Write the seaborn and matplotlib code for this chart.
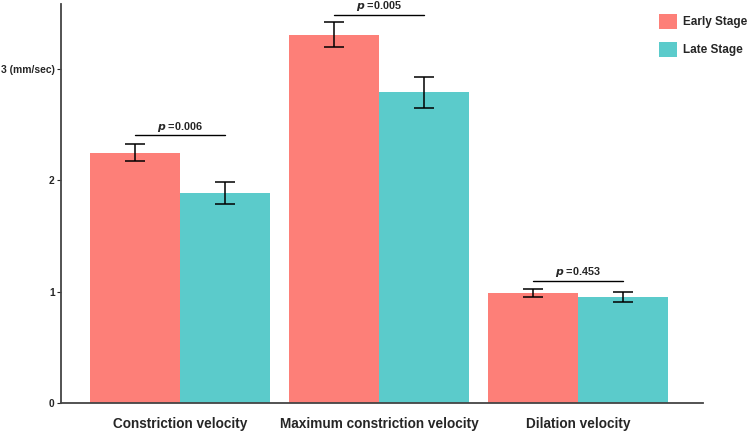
import pandas as pd
import matplotlib
matplotlib.use("Agg")
import matplotlib.pyplot as plt
import seaborn as sns
from matplotlib.patches import Patch

# data
measures = ["Constriction velocity", "Maximum constriction velocity", "Dilation velocity"]
stages = ["Early Stage", "Late Stage"]
early_mean = [2.25, 3.31, 0.99]
late_mean = [1.89, 2.79, 0.95]
early_err = [0.08, 0.11, 0.035]
late_err = [0.10, 0.14, 0.045]
p_values = ["0.006", "0.005", "0.453"]
p_heights = [2.41, 3.49, 1.10]
yticks = [0, 1, 2, 3]
ytick_labels = ["0", "1", "2", "3 (mm/sec)"]

colors = ["#FD7F78", "#5BCBCB"]

df = pd.DataFrame({
    "measure": measures * 2,
    "stage": [stages[0]] * 3 + [stages[1]] * 3,
    "value": early_mean + late_mean,
})

sns.set_style("white")
plt.rcParams["font.family"] = ["Liberation Sans", "DejaVu Sans"]
plt.rcParams["font.weight"] = "bold"

fig = plt.figure(figsize=(7.49, 4.33), dpi=100)
ax = fig.add_axes([0.0814, 0.0693, 0.8572, 0.9215])

sns.barplot(data=df, x="measure", y="value", hue="stage", order=measures,
            hue_order=stages, palette=colors, width=0.9, errorbar=None,
            saturation=1, linewidth=0, ax=ax, legend=False)

# bar centres from the seaborn bars
bar_conts = list(ax.containers)
errs = [early_err, late_err]
means = [early_mean, late_mean]
centers = []
for i, cont in enumerate(bar_conts):
    xs = [b.get_x() + b.get_width() / 2 for b in cont]
    centers.append(xs)
    ax.errorbar(xs, means[i], yerr=errs[i], fmt="none", ecolor="black",
                elinewidth=1.1, capsize=7, capthick=1.1)

for j in range(3):
    x0, x1 = centers[0][j], centers[1][j]
    ax.plot([x0, x1], [p_heights[j], p_heights[j]], color="black", lw=1)
    ax.text((x0 + x1) / 2, p_heights[j] + 0.01,
            r"$\mathbfit{p}$ =" + p_values[j], ha="center", va="bottom",
            fontsize=7.8, fontweight="bold")

ax.set_xlim(-0.598, 2.628)
ax.set_ylim(0, 3.585)
ax.set_yticks(yticks)
ax.set_yticklabels(ytick_labels)
ax.set_xlabel("")
ax.set_ylabel("")
ax.tick_params(axis="y", labelsize=7.4, length=3, width=0.8, left=True, pad=1.5)
ax.tick_params(axis="x", labelsize=9.8, length=0, pad=10)
for lab in ax.get_xticklabels() + ax.get_yticklabels():
    lab.set_fontweight("bold")

sns.despine(ax=ax)
for s in ["left", "bottom"]:
    ax.spines[s].set_color("#444444")
    ax.spines[s].set_linewidth(1.3)

handles = [Patch(facecolor=c, edgecolor="none") for c in colors]
fig.legend(handles, stages, loc="upper left", bbox_to_anchor=(0.873, 0.979),
           frameon=False, fontsize=8.5, handlelength=1.6, handleheight=1.6,
           labelspacing=1.1, handletextpad=0.45, borderaxespad=0)

fig.savefig("out.png", dpi=100)
